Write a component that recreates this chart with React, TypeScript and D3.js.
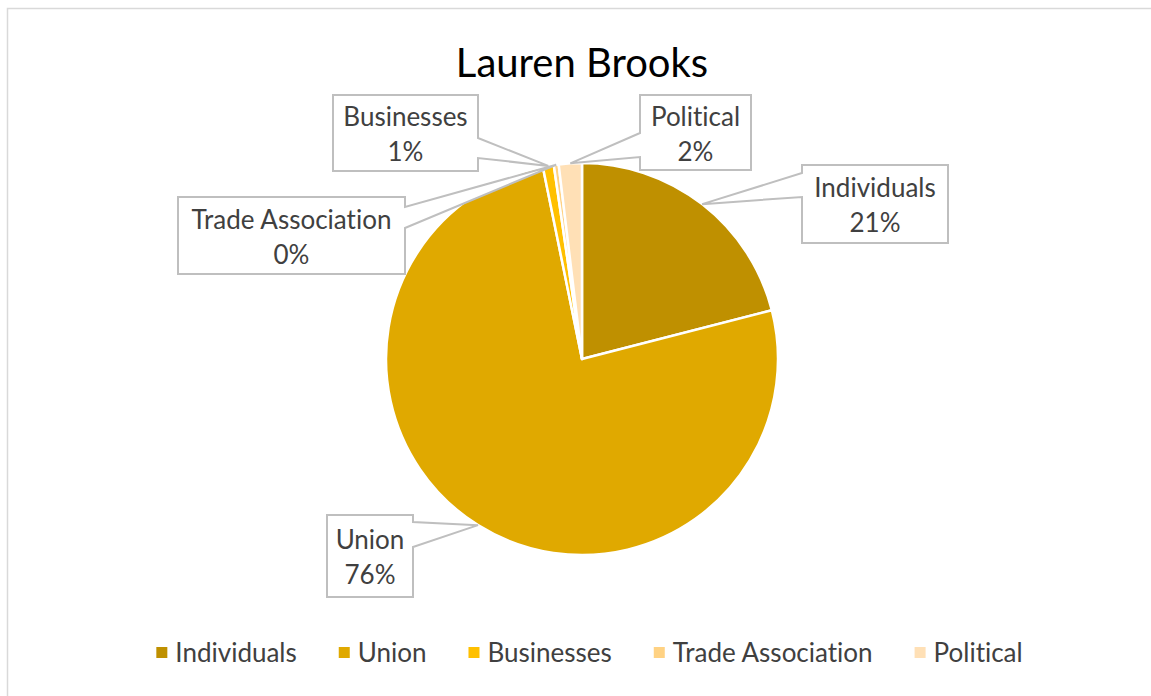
import React, { useEffect, useRef } from "react";
import * as d3 from "d3";

const categories = ["Individuals", "Union", "Businesses", "Trade Association", "Political"];
const shares = [21.0, 75.8, 0.9, 0.4, 1.9];
const colors = ["#BF9000", "#E0A900", "#FFC000", "#FFD283", "#FFE0B6"];
const title = "Lauren Brooks";

// callout box layout (position, size, which side carries the pointer, pointer base along that side)
const boxes = [
  { x: 802, y: 165, w: 146, h: 78, side: "left", b1: 173, b2: 197 },
  { x: 327, y: 515, w: 86, h: 82, side: "right", b1: 522, b2: 547 },
  { x: 333, y: 95, w: 145, h: 76, side: "right", b1: 138, b2: 158 },
  { x: 178, y: 197, w: 227, h: 77, side: "right", b1: 207, b2: 228 },
  { x: 640, y: 95, w: 111, h: 75, side: "left", b1: 133, b2: 157 },
];

const W = 1151;
const H = 696;
const FONT = "Lato, 'Open Sans', sans-serif";

export default function App() {
  const ref = useRef<SVGSVGElement | null>(null);
  useEffect(() => {
    const svg = d3.select(ref.current);
    svg.selectAll("*").remove();

    svg.append("rect").attr("x", 7.5).attr("y", 8.5).attr("width", W).attr("height", H)
      .attr("fill", "#fff").attr("stroke", "#d9d9d9").attr("stroke-width", 1.5);

    svg.append("text").attr("x", 582).attr("y", 77).attr("text-anchor", "middle")
      .attr("font-family", FONT).attr("font-size", 40).attr("fill", "#000").text(title);

    const cx = 582, cy = 359, r = 196;
    const pie = d3.pie<number>().sort(null).value((d) => d);
    const arcs = pie(shares);
    const arc = d3.arc<d3.PieArcDatum<number>>().innerRadius(0).outerRadius(r);
    const g = svg.append("g").attr("transform", `translate(${cx},${cy})`);
    g.selectAll("path").data(arcs).enter().append("path")
      .attr("d", arc as any)
      .attr("fill", (_d, i) => colors[i])
      .attr("stroke", "#fff").attr("stroke-width", 2.5).attr("stroke-linejoin", "round");

    // callouts
    arcs.forEach((a, i) => {
      const mid = (a.startAngle + a.endAngle) / 2;
      const tx = cx + r * Math.sin(mid);
      const ty = cy - r * Math.cos(mid);
      const b = boxes[i];
      const x0 = b.x, y0 = b.y, x1 = b.x + b.w, y1 = b.y + b.h;
      let pts: [number, number][];
      if (b.side === "left") {
        pts = [[x0, y0], [x1, y0], [x1, y1], [x0, y1], [x0, b.b2], [tx, ty], [x0, b.b1]];
      } else {
        pts = [[x0, y0], [x1, y0], [x1, b.b1], [tx, ty], [x1, b.b2], [x1, y1], [x0, y1]];
      }
      svg.append("path").attr("d", "M" + pts.map((p) => p.join(",")).join("L") + "Z")
        .attr("fill", "#fff").attr("stroke", "#bfbfbf").attr("stroke-width", 2)
        .attr("stroke-linejoin", "miter");
      const mx = b.x + b.w / 2, my = b.y + b.h / 2;
      const t = svg.append("text").attr("text-anchor", "middle").attr("font-family", FONT)
        .attr("font-size", 26).attr("fill", "#404040").style("font-variant-ligatures", "none");
      t.append("tspan").attr("x", mx).attr("y", my - 7).text(categories[i]);
      t.append("tspan").attr("x", mx).attr("y", my + 28).text(Math.round(a.data) + "%");
    });

    // legend
    const lg = svg.append("g");
    let x = 0;
    const gap = 42;
    categories.forEach((c, i) => {
      const it = lg.append("g").attr("transform", `translate(${x},0)`);
      it.append("rect").attr("x", 0).attr("y", -6).attr("width", 11).attr("height", 11).attr("fill", colors[i]);
      const tt = it.append("text").attr("x", 19).attr("y", 9).attr("font-family", FONT)
        .attr("font-size", 26).attr("fill", "#404040").style("font-variant-ligatures", "none").text(c);
      const w = 19 + (tt.node() as SVGTextElement).getComputedTextLength();
      x += w + gap;
    });
    const total = x - gap;
    lg.attr("transform", `translate(${589.5 - total / 2},653)`);
  }, []);

  return (
    <svg ref={ref} width={W} height={H} style={{ position: "absolute", left: 0, top: 0, background: "#fff" }} />
  );
}
